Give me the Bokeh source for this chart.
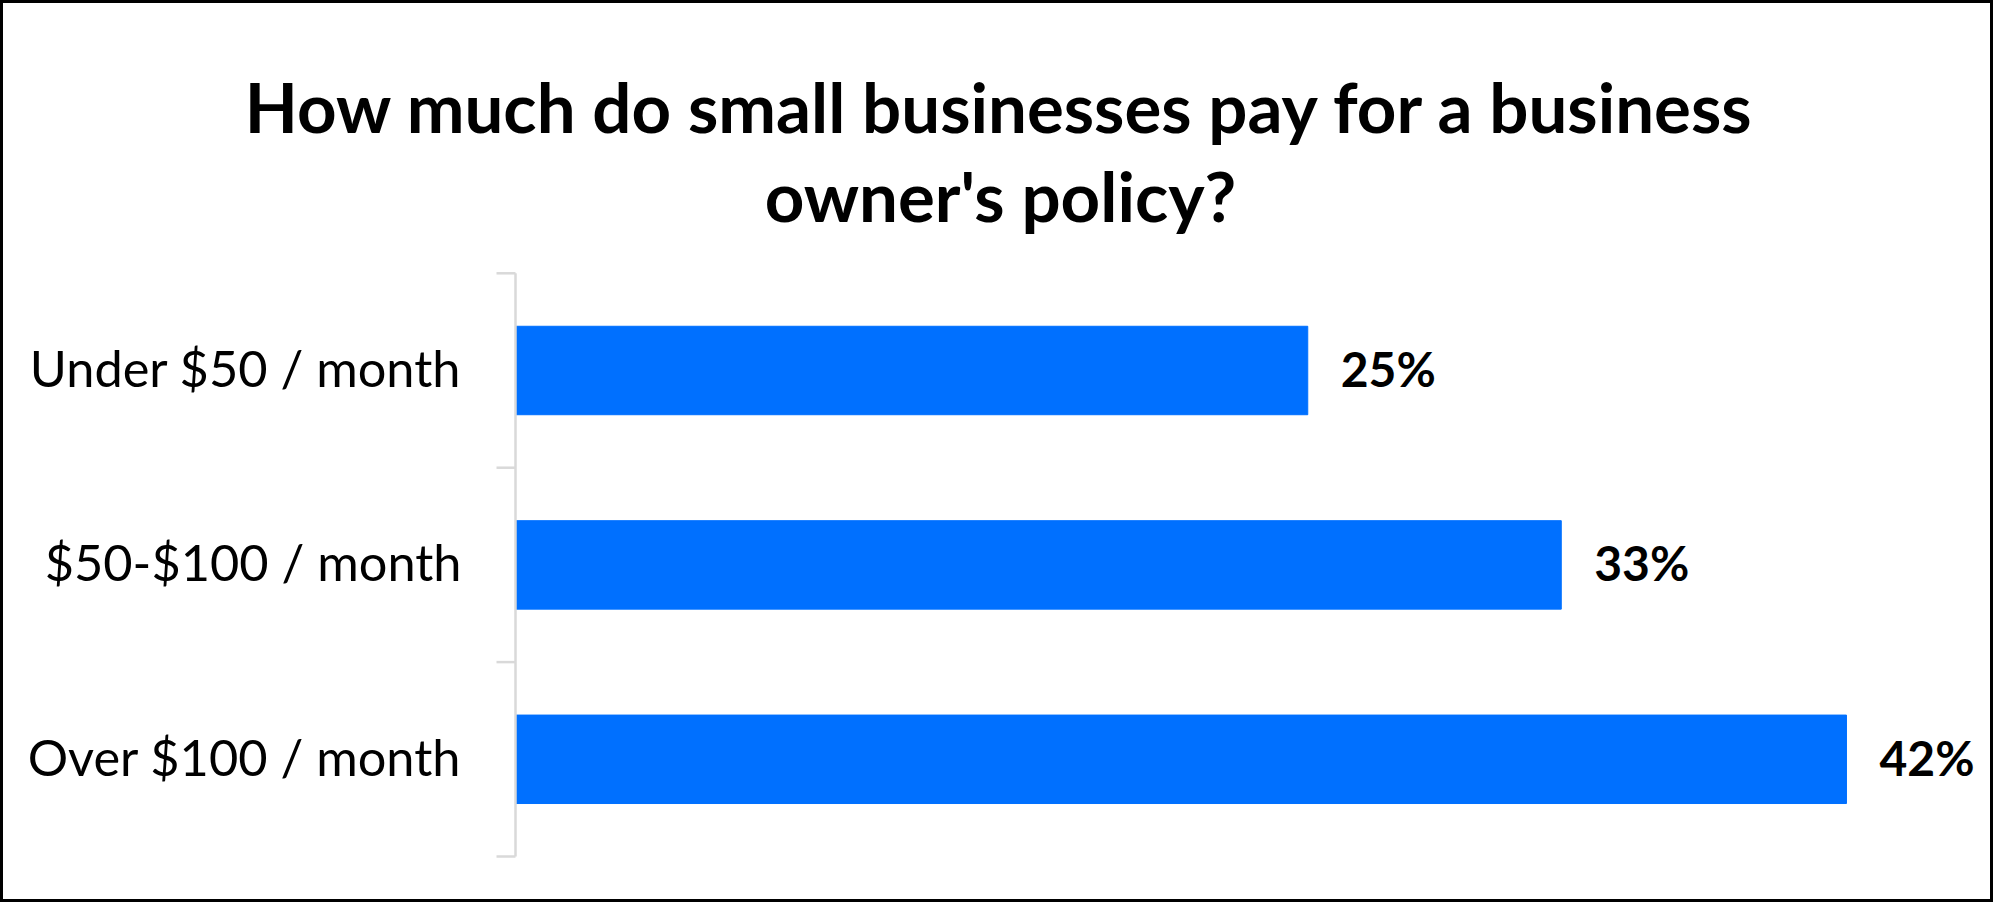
from bokeh.plotting import figure
from bokeh.models import Range1d, ColumnDataSource
from bokeh.core.properties import value
from bokeh.embed import file_html
from bokeh.resources import INLINE

title_lines = ["How much do small businesses pay for a business", "owner's policy?"]
categories = ["Under $50 / month", "$50-$100 / month", "Over $100 / month"]
shares = [25, 33, 42]
share_labels = [f"{v}%" for v in shares]

# ---- canvas geometry (pixels) ----
W, H = 1993, 902
FONT = "Lato"
AXIS_GRAY = "#d9d9d9"
BAR_BLUE = "#0070ff"
PX_X = 31.69          # pixels per percentage point
PX_Y = 194.4          # pixels per category band
X0_PX = 512           # canvas x of value 0
Y0_PX = 853           # canvas y (from top) of the bottom category boundary
TICK_LEN = 19


def dx(px):
    return (px - X0_PX) / PX_X


def dy(px_from_top):
    return (Y0_PX - px_from_top) / PX_Y


n = len(categories)
ypos = [n - i - 0.5 for i in range(n)]
boundaries = list(range(n + 1))

p = figure(width=W, height=H, output_backend="svg", toolbar_location=None,
           x_range=Range1d(dx(0), dx(W)), y_range=Range1d(dy(H), dy(0)),
           x_axis_location=None, y_axis_location=None,
           min_border=0, min_border_left=0, min_border_right=0,
           min_border_top=0, min_border_bottom=0)
p.styles = {"border": "3px solid black"}
p.grid.visible = False
p.outline_line_color = None
p.background_fill_color = "white"
p.border_fill_color = "white"

src = ColumnDataSource(dict(y=ypos, v=shares, t=share_labels, c=categories))

# bars
p.hbar(y="y", right="v", left=0, height=0.455, color=BAR_BLUE, source=src)

# category axis: line at value 0 and ticks at category boundaries
p.segment(x0=[0], y0=[boundaries[0]], x1=[0], y1=[boundaries[-1]],
          line_color=AXIS_GRAY, line_width=2.5)
p.segment(x0=[-TICK_LEN / PX_X] * len(boundaries), y0=boundaries,
          x1=[0] * len(boundaries), y1=boundaries,
          line_color=AXIS_GRAY, line_width=2.5)

# category labels
p.text(x=dx(458), y="y", text="c", text_align="right", text_baseline="middle",
       y_offset=-3, text_font=value(FONT), text_font_size="50.5px",
       text_color="black", source=src)

# data labels
p.text(x="v", y="y", text="t", x_offset=33, text_baseline="middle", text_align="left",
       y_offset=-2, text_font=value(FONT), text_font_style="bold", text_font_size="48px",
       text_color="black", source=src)

# two-line title centred on the chart
p.text(x=[dx(997)] * len(title_lines), y=[dy(103), dy(192)], text=title_lines,
       text_align="center", text_baseline="alphabetic",
       text_font=value(FONT), text_font_style="bold", text_font_size="69px",
       text_color="black")

open("out.html", "w").write(file_html(p, INLINE))
